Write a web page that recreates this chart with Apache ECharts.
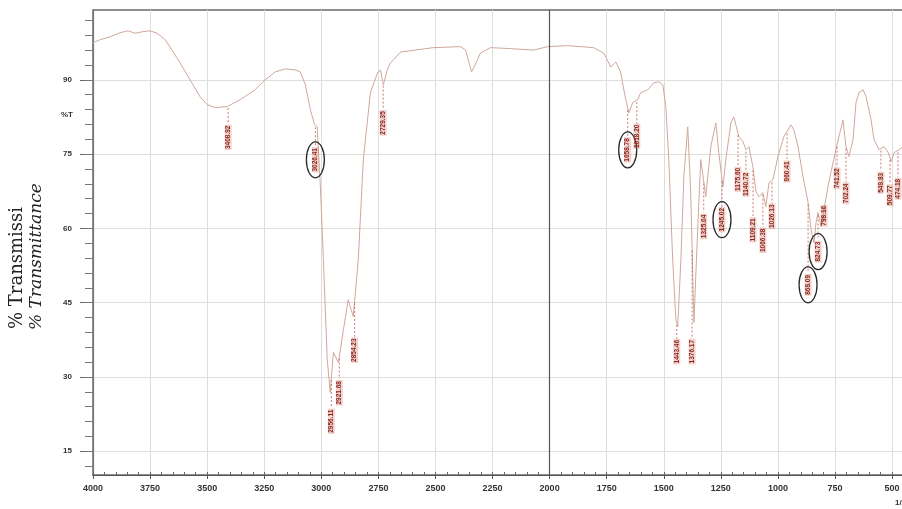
<!DOCTYPE html>
<html>
<head>
<meta charset="utf-8">
<title>IR spectrum</title>
<script src="https://cdn.jsdelivr.net/npm/echarts@6/dist/echarts.min.js"></script>
<style>
  html, body { margin: 0; padding: 0; background: #fff; }
  #chart { width: 902px; height: 509px; }
</style>
</head>
<body>
<div id="chart"></div>
<script>
// spectrum trace (cm-1, %T)
var wavenumbers = [4000, 3969, 3925, 3882, 3846, 3816, 3785, 3750, 3719, 3684, 3654, 3618, 3575, 3531, 3500, 3465,
  3412, 3355, 3290, 3246, 3202, 3158, 3114, 3092, 3070, 3048, 3030, 3018, 3004, 2991, 2974, 2961, 2947, 2925, 2903,
  2882, 2860, 2838, 2816, 2785, 2754, 2741, 2728, 2711, 2697, 2653, 2509, 2390, 2368, 2342, 2320, 2303, 2259, 2171,
  2070, 2009, 1921, 1807, 1763, 1732, 1710, 1689, 1671, 1653, 1636, 1614, 1601, 1570, 1544, 1522, 1504, 1491, 1478,
  1461, 1447, 1439, 1425, 1412, 1395, 1382, 1373, 1368, 1351, 1338, 1316, 1294, 1272, 1259, 1241, 1228, 1206, 1193,
  1171, 1153, 1140, 1127, 1110, 1096, 1083, 1066, 1053, 1039, 1022, 1000, 974, 943, 930, 912, 890, 868, 855, 842,
  833, 825, 811, 798, 781, 768, 746, 733, 715, 702, 689, 671, 658, 645, 627, 614, 592, 579, 557, 535, 517, 504, 491,
  469, 452];
var transmittance = [97.5, 98.1, 98.7, 99.5, 99.9, 99.4, 99.7, 99.9, 99.4, 98.1, 96.0, 93.4, 90.0, 86.6, 85.0, 84.4,
  84.6, 86.0, 88.0, 90.0, 91.6, 92.2, 92.0, 91.6, 89.0, 84.0, 81.0, 80.5, 68.4, 53.7, 33.5, 26.9, 35.0, 32.9, 39.6,
  45.6, 42.2, 53.7, 73.9, 87.4, 91.4, 92.0, 89.0, 92.0, 93.4, 95.6, 96.5, 96.7, 96.0, 91.6, 93.6, 95.4, 96.5, 96.3,
  96.0, 96.7, 96.9, 96.5, 95.4, 92.6, 93.6, 91.6, 87.0, 83.3, 85.4, 86.0, 87.4, 88.0, 89.4, 89.6, 89.0, 84.6, 73.9,
  53.7, 41.6, 40.2, 53.7, 70.4, 80.5, 67.2, 50.3, 41.0, 60.4, 73.9, 66.4, 76.5, 81.3, 75.3, 68.4, 73.9, 81.3, 82.5,
  78.5, 77.5, 75.9, 76.5, 72.5, 67.4, 66.4, 67.2, 64.4, 69.2, 69.8, 74.5, 78.5, 80.9, 79.9, 76.5, 70.4, 65.2, 59.8, 57.1,
  61.2, 63.2, 60.4, 63.8, 68.4, 71.3, 75.9, 78.5, 81.9, 76.5, 74.5, 77.9, 85.4, 87.4, 88.0, 86.6, 81.9, 77.9, 75.9, 76.5, 75.3, 73.5, 75.3,
  75.9, 76.5];

var xTicks = [4000, 3750, 3500, 3250, 3000, 2750, 2500, 2250, 2000, 1750, 1500, 1250, 1000, 750, 500];
var yTicks = [15, 30, 45, 60, 75, 90];

// peak labels: position, top/bottom of the label (in %T) and text
var peakWn = [3408, 3026, 2956, 2921, 2854, 2729, 1658, 1618, 1443, 1376, 1325, 1245, 1175, 1140, 1109, 1066, 1026,
  960, 868, 824, 798, 741, 702, 549, 509, 474];
var peakTop = [80.9, 76.3, 23.8, 29.4, 37.9, 83.9, 78.5, 80.9, 37.5, 37.5, 63.1, 64.2, 72.4, 71.4, 62.3, 60.1, 64.8,
  73.8, 51.2, 57.7, 64.8, 72.2, 69.2, 71.4, 68.8, 70.2];
var peakBottom = [75.9, 71.4, 18.3, 24.2, 32.9, 78.7, 73.2, 76.3, 32.7, 32.7, 57.7, 59.3, 67.4, 66.4, 57.1, 55.1, 60.1,
  69.2, 46.0, 52.9, 60.3, 68.0, 65.0, 67.0, 64.6, 65.8];
var peakText = ['3408.92', '3026.41', '2956.11', '2921.68', '2854.23', '2729.35', '1658.78', '1618.20', '1443.46',
  '1376.17', '1325.04', '1245.02', '1175.60', '1140.72', '1109.21', '1066.38', '1026.13', '960.41', '868.09',
  '824.73', '798.16', '741.52', '702.24', '549.83', '509.77', '474.18'];
var circled = [1, 6, 11, 18, 19];

var minorY = [];
for (var v = 12; v <= 102; v += 3) minorY.push(v);

function curveAt(wn) {
  for (var i = 0; i < wavenumbers.length - 1; i++) {
    var a = wavenumbers[i], b = wavenumbers[i + 1];
    if (wn <= a && wn >= b) {
      var t = (a - wn) / (a - b);
      return transmittance[i] + t * (transmittance[i + 1] - transmittance[i]);
    }
  }
  return transmittance[transmittance.length - 1];
}

var lineData = [];
for (var i = 0; i < wavenumbers.length; i++) lineData.push([wavenumbers[i], transmittance[i]]);
var peakData = [];
for (var j = 0; j < peakWn.length; j++) peakData.push([peakWn[j], peakTop[j], peakBottom[j]]);

var myChart = echarts.init(document.getElementById('chart'));

var labelFont = 'Liberation Sans';
var plain = function (val) { return String(val); };
var option = {
  animation: false,
  backgroundColor: '#fff',
  grid: {
    left: 93, top: 10, width: 810.5, height: 465,
    containLabel: false, outerBoundsMode: 'none',
    show: true, borderColor: '#6a6a6a', borderWidth: 1.5
  },
  xAxis: [{
    type: 'value', min: 450, max: 4000, inverse: true,
    axisLine: { lineStyle: { color: '#555', width: 1.2 } },
    axisTick: { customValues: xTicks, length: 4, lineStyle: { color: '#555' } },
    axisLabel: {
      customValues: xTicks, formatter: plain, margin: 9, color: '#333',
      fontSize: 9, fontWeight: 'bold', fontFamily: labelFont
    },
    splitLine: { show: true, lineStyle: { color: '#dedede', width: 1 } }
  }, {
    type: 'value', min: 450, max: 4000, interval: 50, inverse: true, position: 'bottom',
    axisLine: { show: false },
    axisTick: { show: true, inside: true, length: 3, lineStyle: { color: '#666' } },
    axisLabel: { show: false },
    splitLine: { show: false }
  }],
  yAxis: [{
    type: 'value', min: 10.2, max: 104.1,
    axisLine: { show: true, lineStyle: { color: '#777', width: 1.2 } },
    axisTick: { show: true, customValues: yTicks, length: 13, lineStyle: { color: '#666' } },
    axisLabel: {
      customValues: yTicks, formatter: plain, margin: 21, color: '#333',
      fontSize: 8, fontWeight: 'bold', fontFamily: labelFont
    },
    splitLine: { show: true, lineStyle: { color: '#dedede', width: 1 } }
  }, {
    type: 'value', min: 10.2, max: 104.1, position: 'left',
    axisLine: { show: false },
    axisTick: { show: true, customValues: minorY, length: 8, lineStyle: { color: '#777' } },
    axisLabel: { show: false },
    splitLine: { show: false }
  }],
  graphic: [
    { type: 'text', x: 67, y: 115, style: { text: '%T', fill: '#333', font: 'bold 8px ' + labelFont, align: 'center', verticalAlign: 'middle' } },
    { type: 'text', x: 17, y: 329, rotation: Math.PI / 2, style: { text: '% Transmissi', fill: '#222', font: '18px "DejaVu Serif"', align: 'left', verticalAlign: 'middle' } },
    { type: 'text', x: 37, y: 330, rotation: Math.PI / 2, style: { text: '% Transmittance', fill: '#222', font: 'italic 17px "DejaVu Serif"', align: 'left', verticalAlign: 'middle' } },
    { type: 'text', x: 895, y: 503, style: { text: '1/cm', fill: '#333', font: 'bold 8px ' + labelFont, align: 'left', verticalAlign: 'middle' } }
  ],
  series: [{
    type: 'line',
    data: lineData,
    xAxisIndex: 0, yAxisIndex: 0,
    showSymbol: false,
    lineStyle: { color: '#cfa89b', width: 1 },
    markLine: {
      silent: true, symbol: 'none', label: { show: false },
      lineStyle: { color: '#555', width: 1.2, type: 'solid' },
      data: [{ xAxis: 2000 }]
    },
    z: 3
  }, {
    type: 'custom',
    xAxisIndex: 0, yAxisIndex: 0,
    data: peakData,
    z: 4,
    renderItem: function (params, api) {
      var k = params.dataIndex;
      var wn = api.value(0);
      var pTop = api.coord([wn, api.value(1)]);
      var pBot = api.coord([wn, api.value(2)]);
      var pCurve = api.coord([wn, curveAt(wn)]);
      var cx = pTop[0], cy = (pTop[1] + pBot[1]) / 2;
      var children = [];
      if (pTop[1] - pCurve[1] > 4) {
        children.push({
          type: 'line',
          shape: { x1: cx, y1: pCurve[1] + 2, x2: cx, y2: pTop[1] - 1 },
          style: { stroke: '#c0574a', lineWidth: 0.8, lineDash: [2, 2] }
        });
      }
      children.push({
        type: 'text', x: cx, y: cy, rotation: Math.PI / 2,
        style: {
          text: peakText[k], fill: '#8e241b', font: 'bold 6.5px ' + labelFont,
          align: 'center', verticalAlign: 'middle',
          backgroundColor: 'rgba(205,110,90,0.3)', padding: [0, 1]
        }
      });
      if (circled.indexOf(k) >= 0) {
        children.push({
          type: 'ellipse',
          shape: { cx: cx, cy: cy, rx: 9, ry: 18 },
          style: { fill: 'none', stroke: '#2a2a2a', lineWidth: 1.3 }
        });
      }
      return { type: 'group', children: children };
    }
  }]
};

myChart.setOption(option);
</script>
</body>
</html>
